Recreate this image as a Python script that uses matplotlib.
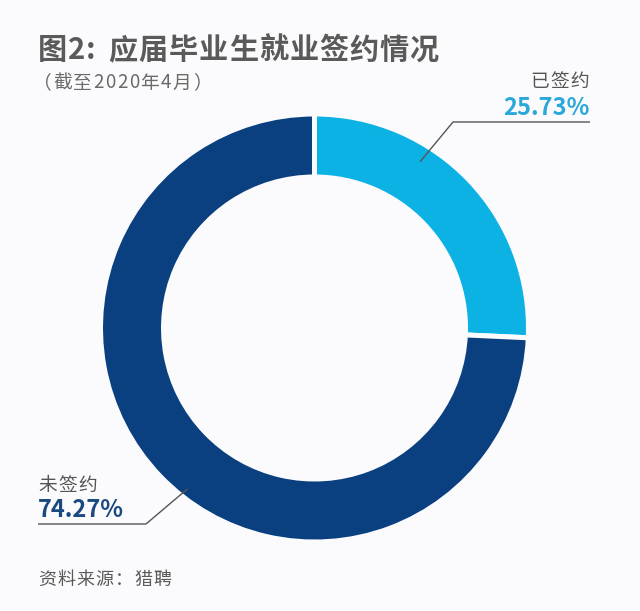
import numpy as np
import matplotlib
matplotlib.use("Agg")
import matplotlib.pyplot as plt

plt.rcParams['font.family'] = ['Noto Sans CJK SC', 'DejaVu Sans']

# ---- data ----
categories = ['已签约', '未签约']
values = [25.73, 74.27]
colors = ['#0DB2E5', '#0A3F80']
label_colors = ['#2AA8DA', '#1B4A80']
title = '图2: 应届毕业生就业签约情况'
subtitle = '（截至2020年4月）'
source = '资料来源：猎聘'

W, H = 640, 611
bg = '#FBFBFD'
fig = plt.figure(figsize=(W / 100, H / 100), dpi=100)
fig.patch.set_facecolor(bg)
ax = fig.add_axes([0, 0, 1, 1])
ax.set_facecolor(bg)

def Y(y):
    return H - y

cx, cy, R, ring = 314.5, 328, 214, 63
ax.pie(values, colors=colors, startangle=90, counterclock=False,
       radius=R, center=(cx, Y(cy)),
       wedgeprops=dict(width=ring, edgecolor=bg, linewidth=3.6))
ax.set_xlim(0, W)
ax.set_ylim(0, H)
ax.set_aspect('equal')
ax.axis('off')

renderer = fig.canvas.get_renderer()

def spaced_text(x, y, s, spacing, ha='left', **kw):
    """Draw text char by char with extra letter spacing (pixels)."""
    items = []
    widths = []
    for ch in s:
        if ch == ' ':
            t = ax.text(0, y, 'a', va='center', **kw)
            w = t.get_window_extent(renderer).width
            t.remove()
            items.append(None)
            widths.append(w * 0.6)
            continue
        t = ax.text(0, y, ch, va='center', ha='left', **kw)
        w = t.get_window_extent(renderer).width
        items.append(t)
        widths.append(w)
    total = sum(widths) + spacing * (len(s) - 1)
    cur = x if ha == 'left' else x - total
    for t, w in zip(items, widths):
        if t is not None:
            t.set_x(cur)
        cur += w + spacing

# title and notes
spaced_text(38, Y(50), title, 1.0, fontsize=21, fontweight='bold', color='#5A5A5A')
spaced_text(33, Y(83), subtitle, 1.4, fontsize=13.5, color='#6A6A6A')
spaced_text(38, Y(580), source, 1.2, fontsize=13, color='#5A5A5A')

# labels with leader lines
total = sum(values)
cum = np.cumsum([0] + values)
anchor_frac = [0.35, 0.47]
anchor_r = [197, 205]
elbows = [(453, 122), (146, 524)]
ends = [(590, 122), (38, 524)]
name_pos = [(589, 82, 'right'), (38, 485, 'left')]
pct_pos = [(590, 108, 'right'), (38, 510, 'left')]

for i, (cat, v) in enumerate(zip(categories, values)):
    frac = (cum[i] + anchor_frac[i] * v) / total
    ang = np.deg2rad(90 - 360 * frac)
    ax_x = cx + anchor_r[i] * np.cos(ang)
    ax_y = Y(cy) + anchor_r[i] * np.sin(ang)
    ex, ey = elbows[i]
    tx, ty = ends[i]
    ax.plot([ax_x, ex, tx], [ax_y, Y(ey), Y(ty)], color='#555555', lw=1.0,
            solid_capstyle='butt')
    nx, ny, nha = name_pos[i]
    spaced_text(nx, Y(ny), cat, 1.5, ha=nha, fontsize=13.5, color='#555555')
    px, py, pha = pct_pos[i]
    ax.text(px, Y(py), f'{v:.2f}%', fontsize=17, fontweight='bold',
            color=label_colors[i], ha=pha, va='center')

fig.savefig('out.png', dpi=100, facecolor=bg)
